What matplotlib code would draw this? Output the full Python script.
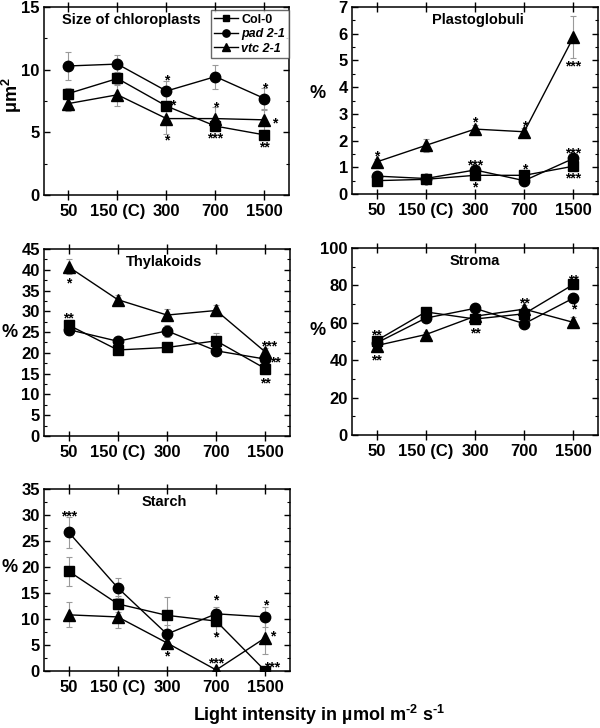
import numpy as np
import matplotlib
matplotlib.use("Agg")
import matplotlib.pyplot as plt
from matplotlib.ticker import MultipleLocator

plt.rcParams['font.family'] = ['Liberation Sans', 'DejaVu Sans']
plt.rcParams['font.weight'] = 'bold'
plt.rcParams['mathtext.fontset'] = 'custom'
plt.rcParams['mathtext.rm'] = 'Liberation Sans:bold'
plt.rcParams['mathtext.it'] = 'Liberation Sans:bold:italic'
plt.rcParams['mathtext.bf'] = 'Liberation Sans:bold'
plt.rcParams['mathtext.default'] = 'rm'

# ---------------------------------------------------------
# Data
# ---------------------------------------------------------
x_labels = ["50", "150 (C)", "300", "700", "1500"]
genotypes = ["Col-0", "pad 2-1", "vtc 2-1"]

size_col = [8.1, 9.3, 7.1, 5.5, 4.8]
size_pad = [10.3, 10.45, 8.3, 9.45, 7.7]
size_vtc = [7.3, 8.0, 6.1, 6.1, 6.0]
size_col_err = [0.45, 0.5, 0.35, 0.35, 0.3]
size_pad_err = [1.15, 0.75, 0.8, 0.95, 0.85]
size_vtc_err = [0.6, 0.9, 1.2, 0.95, 0.8]

plast_col = [0.5, 0.55, 0.7, 0.7, 1.04]
plast_pad = [0.67, 0.58, 0.9, 0.5, 1.33]
plast_vtc = [1.2, 1.82, 2.43, 2.33, 5.87]
plast_col_err = [0.05, 0.05, 0.08, 0.1, 0.1]
plast_pad_err = [0.08, 0.06, 0.1, 0.06, 0.12]
plast_vtc_err = [0.1, 0.25, 0.15, 0.15, 0.78]

thyl_col = [26.7, 20.7, 21.3, 22.9, 16.2]
thyl_pad = [25.6, 22.8, 25.3, 20.5, 18.5]
thyl_vtc = [40.7, 32.8, 29.1, 30.2, 20.2]
thyl_col_err = [1.2, 0.8, 0.7, 2.0, 1.3]
thyl_pad_err = [1.2, 0.8, 1.5, 0.8, 1.0]
thyl_vtc_err = [1.8, 1.1, 1.5, 1.4, 1.0]

stroma_col = [50.5, 65.8, 62.0, 64.8, 80.5]
stroma_pad = [49.2, 62.5, 67.7, 59.5, 73.2]
stroma_vtc = [47.8, 53.7, 63.5, 67.3, 60.2]
stroma_col_err = [2.0, 2.0, 2.0, 2.0, 2.0]
stroma_pad_err = [1.5, 1.5, 1.5, 1.5, 2.0]
stroma_vtc_err = [2.0, 1.5, 2.0, 2.0, 3.0]

starch_col = [19.2, 12.9, 10.7, 9.6, 0.0]
starch_pad = [26.7, 16.0, 7.1, 11.0, 10.4]
starch_vtc = [10.8, 10.4, 5.4, 0.2, 6.4]
starch_col_err = [2.8, 1.5, 3.5, 2.3, 0.1]
starch_pad_err = [3.0, 1.9, 1.8, 1.4, 1.9]
starch_vtc_err = [2.4, 2.2, 1.0, 0.2, 3.2]

# significance marks: (x position, y centre of the stars, text)
size_stars = [(2, 9.45, '*'), (2.13, 7.4, '*'), (2, 4.65, '*'), (3, 7.3, '*'),
              (3, 4.8, '***'), (4, 8.8, '*'), (4.2, 6.0, '*'), (4, 4.05, '**')]
plast_stars = [(0, 1.54, '*'), (2, 2.8, '*'), (3, 2.68, '*'), (4, 4.9, '***'),
               (2, 1.19, '***'), (2, 0.39, '*'), (3, 1.07, '*'), (4, 1.66, '***'),
               (4, 0.72, '***')]
thyl_stars = [(0, 37.6, '*'), (0, 29.1, '**'), (4.07, 22.5, '***'),
              (4.2, 18.5, '**'), (4, 13.4, '**')]
stroma_stars = [(0, 55.4, '**'), (0, 42.0, '**'), (2, 56.0, '**'), (3, 72.0, '**'),
                (4, 84.8, '**'), (4, 68.8, '*')]
starch_stars = [(0, 30.4, '***'), (2, 3.5, '*'), (3, 14.2, '*'), (3, 7.2, '*'),
                (3, 2.2, '***'), (4, 13.3, '*'), (4.15, 7.3, '*'), (4.13, 1.4, '***')]

MARKERS = ['s', 'o', '^']
MSIZES = [7, 7.5, 8]


def style_axis(ax, ymax, major, minor):
    x = np.arange(len(x_labels))
    ax.set_xlim(-0.5, len(x_labels) - 0.5)
    ax.set_ylim(0, ymax)
    ax.set_xticks(x)
    ax.set_xticklabels(x_labels)
    ax.yaxis.set_major_locator(MultipleLocator(major))
    ax.yaxis.set_minor_locator(MultipleLocator(minor))
    ax.tick_params(axis='x', which='major', direction='inout', length=7, width=1,
                   top=True, labelsize=12, pad=3)
    ax.tick_params(axis='y', which='major', direction='in', length=4, width=1,
                   right=True, labelsize=12, pad=3)
    ax.tick_params(axis='y', which='minor', direction='in', length=2.5, width=0.8,
                   right=True)
    for lab in ax.get_xticklabels() + ax.get_yticklabels():
        lab.set_fontweight('bold')
    for sp in ax.spines.values():
        sp.set_linewidth(1.1)


def draw_panel(ax, series, errors, stars, title, title_x, title_ha):
    x = np.arange(len(x_labels))
    lines = []
    for vals, errs, mk, ms, name in zip(series, errors, MARKERS, MSIZES, genotypes):
        ax.errorbar(x, vals, yerr=errs, fmt='none', ecolor='#9a9a9a',
                    elinewidth=0.8, capsize=2, capthick=0.8, zorder=1)
        ln, = ax.plot(x, vals, color='black', lw=1, marker=mk, ms=ms,
                      mfc='black', mec='black', zorder=3, label=name)
        lines.append(ln)
    for xs, ys, txt in stars:
        ax.annotate(txt, (xs, ys), xytext=(0, -5.5), textcoords='offset points',
                    ha='center', va='baseline', fontsize=10, fontweight='bold',
                    zorder=4)
    ax.text(title_x, 0.93, title, transform=ax.transAxes, ha=title_ha, va='center',
            fontsize=10.5, fontweight='bold')
    return lines


def percent_label(ax, xpos, ypos):
    ax.set_ylabel("%", fontsize=13, fontweight='bold', rotation=0, va='center',
                  ha='center')
    ax.yaxis.set_label_coords(xpos, ypos)


fig = plt.figure(figsize=(6.0, 7.28), dpi=100)

ax1 = fig.add_axes([0.0733, 0.7321, 0.4083, 0.2582])
ax2 = fig.add_axes([0.5867, 0.7335, 0.41, 0.2569])
ax3 = fig.add_axes([0.0733, 0.4011, 0.41, 0.2569])
ax4 = fig.add_axes([0.5867, 0.4025, 0.41, 0.2569])
ax5 = fig.add_axes([0.0733, 0.0783, 0.41, 0.25])

# Size of chloroplasts
lines = draw_panel(ax1, [size_col, size_pad, size_vtc],
                   [size_col_err, size_pad_err, size_vtc_err], size_stars,
                   "Size of chloroplasts", 0.075, 'left')
style_axis(ax1, 15, 5, 2.5)
ax1.set_ylabel("μm$^2$", fontsize=13, fontweight='bold', va='center', ha='center')
ax1.yaxis.set_label_coords(-0.13, 0.53)
leg = ax1.legend(handles=lines, loc='upper right', bbox_to_anchor=(1.0, 0.985),
                 fontsize=9, frameon=True, fancybox=False, handlelength=1.9,
                 handletextpad=0.25, borderpad=0.3, labelspacing=0.2,
                 borderaxespad=0.0, markerscale=0.7)
leg.get_frame().set_edgecolor('#444444')
leg.get_frame().set_linewidth(1)
for i, t in enumerate(leg.get_texts()):
    t.set_fontweight('bold')
    if i > 0:
        t.set_fontstyle('italic')

# Plastoglobuli
draw_panel(ax2, [plast_col, plast_pad, plast_vtc],
           [plast_col_err, plast_pad_err, plast_vtc_err], plast_stars,
           "Plastoglobuli", 0.51, 'center')
style_axis(ax2, 7, 1, 0.5)
percent_label(ax2, -0.14, 0.54)

# Thylakoids
draw_panel(ax3, [thyl_col, thyl_pad, thyl_vtc],
           [thyl_col_err, thyl_pad_err, thyl_vtc_err], thyl_stars,
           "Thylakoids", 0.49, 'center')
style_axis(ax3, 45, 5, 2.5)
percent_label(ax3, -0.14, 0.555)

# Stroma
draw_panel(ax4, [stroma_col, stroma_pad, stroma_vtc],
           [stroma_col_err, stroma_pad_err, stroma_vtc_err], stroma_stars,
           "Stroma", 0.5, 'center')
style_axis(ax4, 100, 20, 10)
percent_label(ax4, -0.14, 0.56)

# Starch
draw_panel(ax5, [starch_col, starch_pad, starch_vtc],
           [starch_col_err, starch_pad_err, starch_vtc_err], starch_stars,
           "Starch", 0.49, 'center')
style_axis(ax5, 35, 5, 2.5)
percent_label(ax5, -0.14, 0.57)

fig.text(0.532, 0.018, r"Light intensity in µmol m$^{\text{-2}}$ s$^{\text{-1}}$",
         ha='center', va='center', fontsize=13, fontweight='bold')

fig.savefig("out.png", dpi=100)
